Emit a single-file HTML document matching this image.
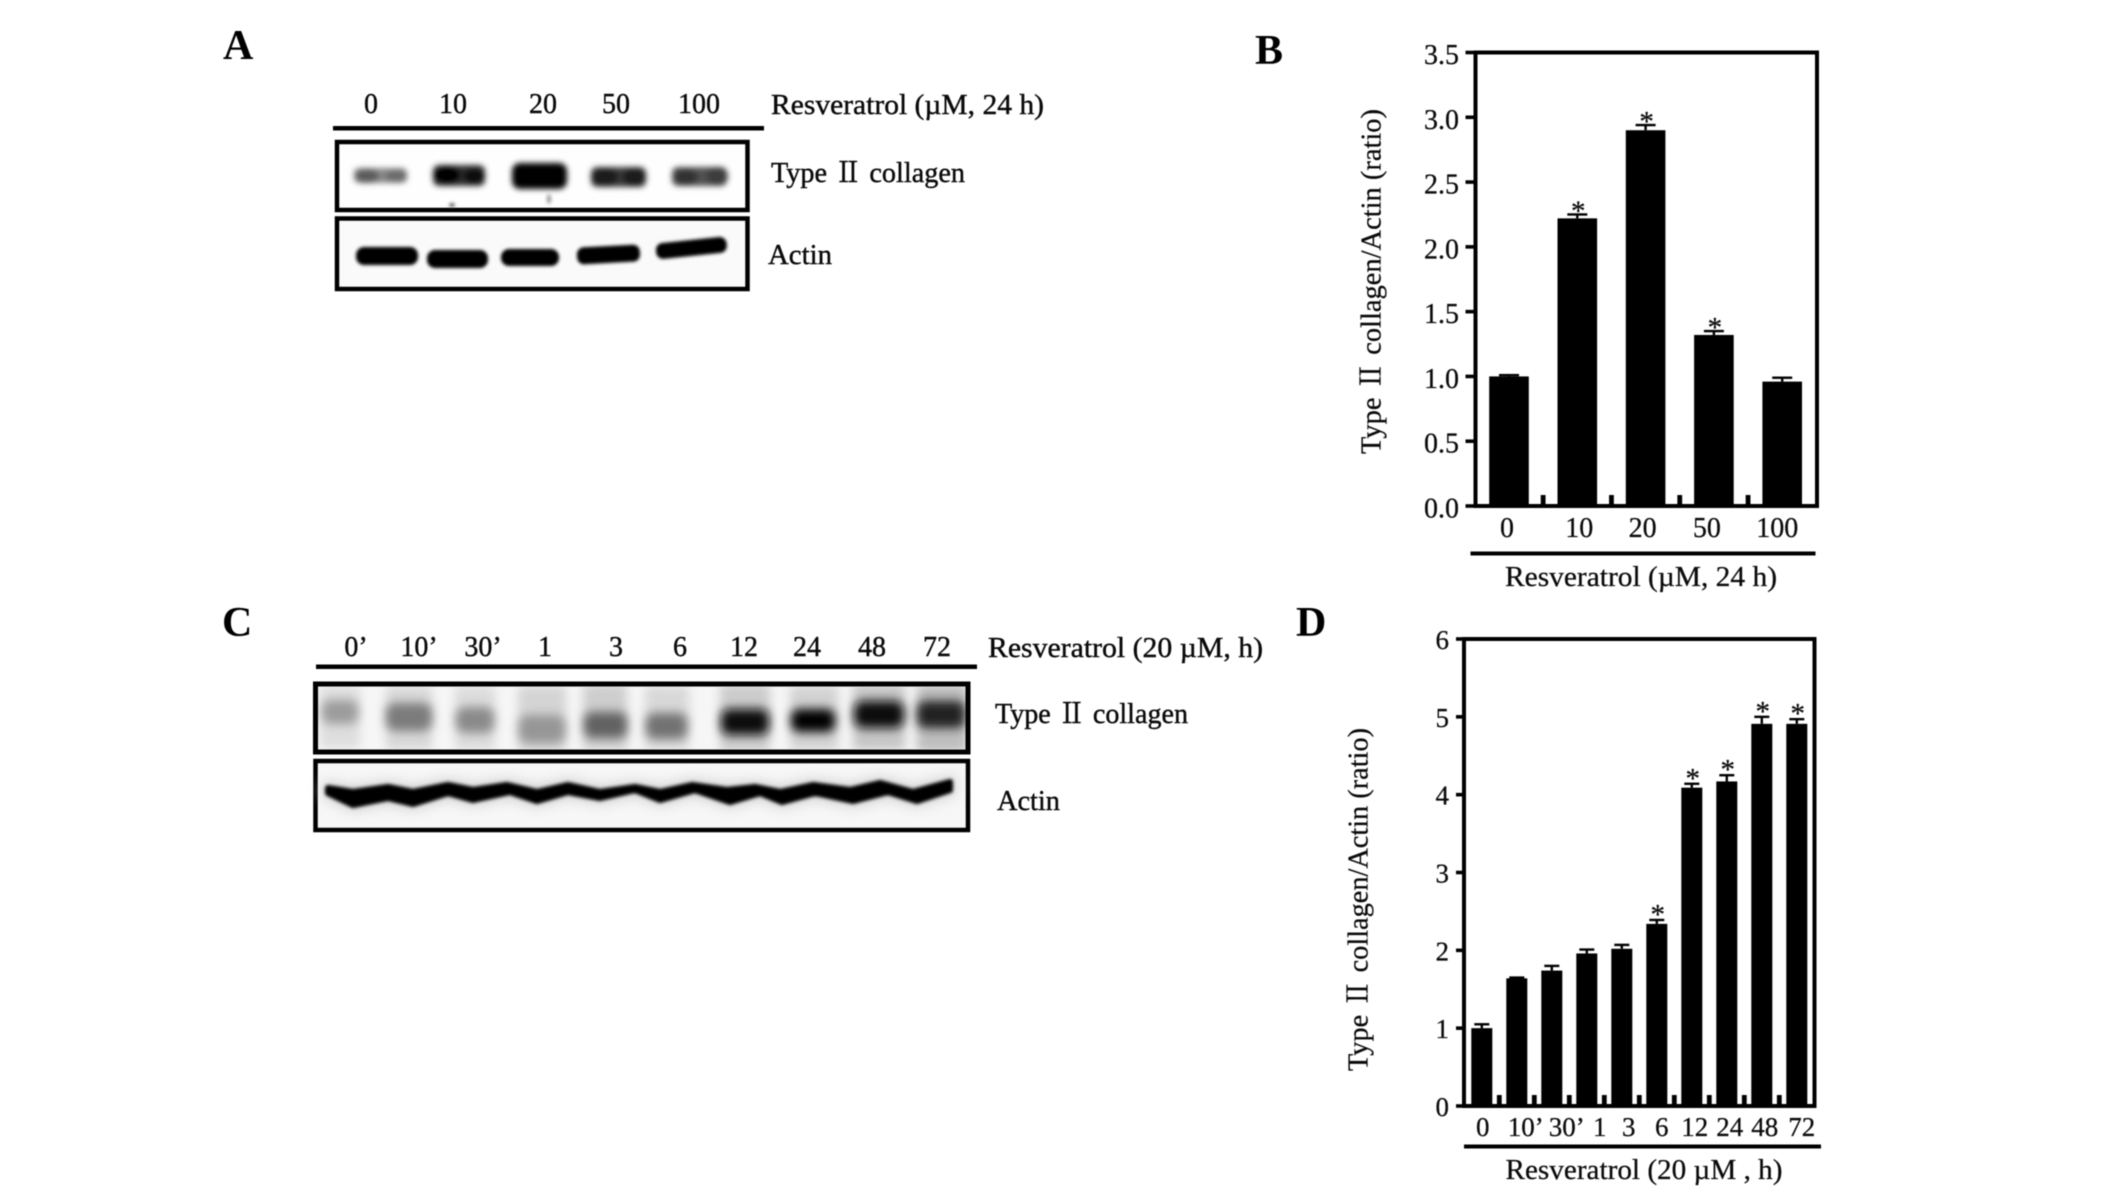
<!DOCTYPE html>
<html lang="en">
<head>
<meta charset="utf-8">
<title>Resveratrol and type II collagen expression</title>
<style>
html,body{margin:0;padding:0;background:#fff}
svg{display:block;filter:blur(.45px)}
text{font-family:"Liberation Serif","Noto Serif CJK SC",serif;fill:#0a0a0a}
.lbl{font-size:28px;stroke:#0a0a0a;stroke-width:.4px}
.chart-text text{stroke:#0a0a0a;stroke-width:.25px}
.panel{font-size:42px;font-weight:bold;fill:#000}
</style>
</head>
<body>
<svg id="fig" xmlns="http://www.w3.org/2000/svg" width="2126" height="1197" viewBox="0 0 2126 1197">
<defs>
<filter id="b1" x="-30%" y="-60%" width="160%" height="220%"><feGaussianBlur stdDeviation="1.5"/></filter>
<filter id="b2" x="-30%" y="-60%" width="160%" height="220%"><feGaussianBlur stdDeviation="2.8"/></filter>
<filter id="b3" x="-60%" y="-60%" width="220%" height="220%"><feGaussianBlur stdDeviation="5"/></filter>
<filter id="b4" x="-10%" y="-100%" width="120%" height="300%"><feGaussianBlur stdDeviation="7"/></filter>
<clipPath id="clip-c1"><rect x="318" y="687" width="648" height="62"/></clipPath>
</defs>
<rect width="2126" height="1197" fill="#fff"/>

<text class="panel" x="223" y="59">A</text>
<text class="panel" x="1255" y="64">B</text>
<text class="panel" x="222" y="636">C</text>
<text class="panel" x="1296" y="636">D</text>

<!-- Panel A blots -->
<g>
  <g class="lbl" text-anchor="middle">
    <text x="371" y="113">0</text>
    <text x="453" y="113">10</text>
    <text x="543" y="113">20</text>
    <text x="616" y="113">50</text>
    <text x="699" y="113">100</text>
  </g>
  <text class="lbl" x="771" y="114" textLength="273" lengthAdjust="spacingAndGlyphs">Resveratrol (µM, 24 h)</text>
  <rect x="333" y="126" width="431" height="4.5" fill="#000"/>

  <rect x="337" y="142" width="410.5" height="68" fill="#fefefe" stroke="#000" stroke-width="4.5"/>
  <g filter="url(#b2)">
    <rect x="354" y="168" width="53" height="15" rx="5" fill="#8a8a8a"/>
    <ellipse cx="367" cy="176" rx="12" ry="7" fill="#5c5c5c"/>
    <ellipse cx="396" cy="176" rx="11" ry="6" fill="#6c6c6c"/>
    <rect x="433" y="165" width="52" height="21" rx="6" fill="#303030"/>
    <ellipse cx="447" cy="175" rx="14" ry="9" fill="#000"/>
    <ellipse cx="474" cy="176" rx="11" ry="8" fill="#111"/>
    <rect x="512" y="163" width="55" height="26" rx="8" fill="#000"/>
    <rect x="591" y="167" width="55" height="20" rx="6" fill="#3c3c3c"/>
    <ellipse cx="605" cy="177" rx="14" ry="9" fill="#1c1c1c"/>
    <ellipse cx="634" cy="177" rx="12" ry="9" fill="#1c1c1c"/>
    <rect x="672" y="167" width="55" height="19" rx="6" fill="#525252"/>
    <ellipse cx="686" cy="177" rx="12" ry="8" fill="#333"/>
    <ellipse cx="717" cy="176" rx="11" ry="9" fill="#3c3c3c"/>
  </g>
  <g filter="url(#b1)">
    <ellipse cx="452" cy="205" rx="3" ry="2" fill="#666"/>
    <ellipse cx="549" cy="199" rx="2.5" ry="5" fill="#aaa"/>
  </g>

  <rect x="337" y="218.5" width="410.5" height="70.5" fill="#fafafa" stroke="#000" stroke-width="4.5"/>
  <g filter="url(#b1)" fill="#000">
    <rect x="356" y="247" width="62" height="18" rx="8"/>
    <rect x="427" y="250" width="61" height="18" rx="8"/>
    <rect x="501" y="249" width="58" height="17" rx="8"/>
    <rect x="577" y="246" width="63" height="17" rx="7" transform="rotate(-3 608 255)"/>
    <rect x="656" y="240" width="71" height="16" rx="7" transform="rotate(-6 691 249)"/>
  </g>
  <text class="lbl" x="771" y="182" textLength="194" lengthAdjust="spacingAndGlyphs">Type Ⅱ collagen</text>
  <text class="lbl" x="768" y="264" textLength="64" lengthAdjust="spacingAndGlyphs">Actin</text>
</g>

<!-- Panel C blots -->
<g>
  <g class="lbl" text-anchor="middle">
    <text x="356" y="656">0’</text>
    <text x="419" y="656">10’</text>
    <text x="483" y="656">30’</text>
    <text x="545" y="656">1</text>
    <text x="616" y="656">3</text>
    <text x="680" y="656">6</text>
    <text x="744" y="656">12</text>
    <text x="807" y="656">24</text>
    <text x="872" y="656">48</text>
    <text x="937" y="656">72</text>
  </g>
  <text class="lbl" x="988" y="657" textLength="275" lengthAdjust="spacingAndGlyphs">Resveratrol (20 µM, h)</text>
  <rect x="316" y="664.5" width="661" height="4.5" fill="#000"/>

  <rect x="316" y="684" width="652" height="68" fill="#f6f6f6"/>
  <g clip-path="url(#clip-c1)">
    <g filter="url(#b3)">
      <rect x="320" y="686" width="40" height="62" fill="#dedede"/>
      <rect x="386" y="686" width="46" height="64" fill="#d8d8d8"/>
      <rect x="455" y="686" width="40" height="64" fill="#dcdcdc"/>
      <rect x="518" y="686" width="48" height="66" fill="#d4d4d4"/>
      <rect x="583" y="684" width="44" height="66" fill="#cecece"/>
      <rect x="645" y="686" width="44" height="64" fill="#d8d8d8"/>
      <rect x="720" y="684" width="50" height="68" fill="#cccccc"/>
      <rect x="790" y="686" width="48" height="64" fill="#d2d2d2"/>
      <rect x="853" y="684" width="52" height="66" fill="#c6c6c6"/>
      <rect x="917" y="684" width="50" height="68" fill="#bebebe"/>
    </g>
    <g filter="url(#b3)">
      <rect x="322" y="700" width="36" height="24" rx="8" fill="#9c9c9c"/>
      <rect x="386" y="703" width="46" height="28" rx="9" fill="#7c7c7c"/>
      <rect x="456" y="707" width="38" height="26" rx="9" fill="#8a8a8a"/>
      <rect x="519" y="715" width="46" height="28" rx="9" fill="#969696"/>
      <rect x="584" y="712" width="43" height="26" rx="8" fill="#626262"/>
      <rect x="646" y="713" width="41" height="26" rx="8" fill="#727272"/>
      <rect x="721" y="709" width="48" height="26" rx="8" fill="#111"/>
      <rect x="791" y="709" width="44" height="23" rx="8" fill="#000"/>
      <rect x="854" y="701" width="50" height="27" rx="9" fill="#0c0c0c"/>
      <rect x="917" y="701" width="48" height="27" rx="8" fill="#222"/>
    </g>
  </g>
  <rect x="315.5" y="684" width="652.5" height="68" fill="none" stroke="#000" stroke-width="5"/>

  <rect x="315.5" y="761" width="652.5" height="69" fill="#f7f7f7" stroke="#000" stroke-width="4.5"/>
  <path filter="url(#b4)" fill="#ccc" stroke="#ccc" stroke-width="10" d="M328 788L353 792L388 787L413 792L448 785L473 790L507 785L537 792L568 785L600 792L635 787L660 792L692 785L727 790L755 787L780 792L813 785L850 790L880 783L913 792L950 782L950 790L917 801L888 792L853 801L815 793L782 802L760 793L730 802L695 790L660 800L635 790L600 798L568 792L537 801L510 792L473 800L448 793L413 804L388 798L353 805L328 793Z"/>
  <path filter="url(#b1)" fill="#000" stroke="#000" stroke-width="6" stroke-linejoin="round" d="M328 788L353 792L388 787L413 792L448 785L473 790L507 785L537 792L568 785L600 792L635 787L660 792L692 785L727 790L755 787L780 792L813 785L850 790L880 783L913 792L950 782L950 790L917 801L888 792L853 801L815 793L782 802L760 793L730 802L695 790L660 800L635 790L600 798L568 792L537 801L510 792L473 800L448 793L413 804L388 798L353 805L328 793Z"/>
  <text class="lbl" x="995" y="723" textLength="193" lengthAdjust="spacingAndGlyphs">Type Ⅱ collagen</text>
  <text class="lbl" x="997" y="810" textLength="63" lengthAdjust="spacingAndGlyphs">Actin</text>
</g>

<g id="chart-b" class="chart-text"></g>
<g id="chart-d" class="chart-text"></g>
</svg>

<script>
// Panel B data
const bCategories = ['0', '10', '20', '50', '100'];
const bValues = [1.0, 2.22, 2.90, 1.32, 0.96];
const bErrors = [0.01, 0.03, 0.04, 0.03, 0.03];
const bSignificant = [false, true, true, true, false];
const bTickLabels = ['0.0', '0.5', '1.0', '1.5', '2.0', '2.5', '3.0', '3.5'];
const bTickValues = [0, 0.5, 1, 1.5, 2, 2.5, 3, 3.5];

// Panel D data
const dCategories = ['0', '10’', '30’', '1', '3', '6', '12', '24', '48', '72'];
const dValues = [1.0, 1.64, 1.74, 1.96, 2.02, 2.34, 4.09, 4.17, 4.91, 4.91];
const dErrors = [0.05, 0.01, 0.06, 0.05, 0.05, 0.05, 0.05, 0.08, 0.09, 0.06];
const dSignificant = [false, false, false, false, false, true, true, true, true, true];
const dTickLabels = ['0', '1', '2', '3', '4', '5', '6'];
const dTickValues = [0, 1, 2, 3, 4, 5, 6];

const SVGNS = 'http://www.w3.org/2000/svg';

function make(parent, tag, attrs, text) {
  const el = document.createElementNS(SVGNS, tag);
  for (const k in attrs) el.setAttribute(k, attrs[k]);
  if (text !== undefined) el.textContent = text;
  parent.appendChild(el);
  return el;
}

function drawChart(cfg) {
  const root = document.getElementById(cfg.id);
  const y = v => cfg.bottom - (v / cfg.yMax) * (cfg.bottom - cfg.top);
  const x = i => cfg.firstCenter + cfg.step * i;
  const n = cfg.categories.length;

  for (let i = 0; i < n; i++) {
    const v = cfg.values[i];
    const bar = make(root, 'rect', {x: x(i) - cfg.barWidth / 2, y: y(v), width: cfg.barWidth, height: cfg.bottom - y(v), fill: '#000'});
    
    

    const capY = y(v + cfg.errors[i]);
    const stem = make(root, 'rect', {x: x(i) - 1.2, y: capY, width: 2.4, height: y(v) - capY, fill: '#000'});
    
    
    const cap = make(root, 'rect', {x: x(i) - cfg.capWidth / 2, y: capY - 1.2, width: cfg.capWidth, height: 2.4, fill: '#000'});
    
    

    if (cfg.significant[i]) {
      const star = make(root, 'text', {x: x(i) + 1, y: capY + cfg.starDrop, 'text-anchor': 'middle', 'font-size': 29}, '*');
      
      
    }

    const xl = make(root, 'text', {x: x(i) + cfg.labelNudge[i], y: cfg.xLabelBaseline, 'text-anchor': 'middle', 'font-size': cfg.fontSize}, cfg.categories[i]);
    
    

    if (i < n - 1) {
      const minor = make(root, 'rect', {x: x(i) + cfg.step / 2 - 2.4, y: cfg.bottom - cfg.minorTick, width: 4.8, height: cfg.minorTick, fill: '#000'});
      
      
    }
  }

  const frame = make(root, 'rect', {x: cfg.left, y: cfg.top, width: cfg.right - cfg.left, height: cfg.bottom - cfg.top, fill: 'none', stroke: '#000', 'stroke-width': 4});
  
  

  cfg.tickValues.forEach((t, i) => {
    const tick = make(root, 'rect', {x: cfg.left - cfg.tickLen, y: y(t) - 1.8, width: cfg.tickLen, height: 3.6, fill: '#000'});
    
    
    const lab = make(root, 'text', {x: cfg.yLabelRight, y: y(t) + cfg.yLabelDrop, 'text-anchor': 'end', 'font-size': cfg.fontSize}, cfg.tickLabels[i]);
    
    
  });

  const line = make(root, 'rect', {x: cfg.xLineStart, y: cfg.xLineY - 2, width: cfg.xLineEnd - cfg.xLineStart, height: 4, fill: '#000'});
  
  

  const xt = make(root, 'text', {x: cfg.xTitleX, y: cfg.xTitleY, 'font-size': 28, textLength: cfg.xTitleLen, lengthAdjust: 'spacingAndGlyphs'}, cfg.xTitle);
  
  

  const yt = make(root, 'text', {transform: 'translate(' + cfg.yTitleX + ',' + cfg.yTitleBottom + ') rotate(-90)', 'font-size': 28, textLength: cfg.yTitleLen, lengthAdjust: 'spacingAndGlyphs'}, 'Type Ⅱ collagen/Actin (ratio)');
  
  
}

drawChart({
  id: 'chart-b', categories: bCategories, values: bValues, errors: bErrors, significant: bSignificant,
  tickLabels: bTickLabels, tickValues: bTickValues, yMax: 3.5,
  left: 1475.5, right: 1817, top: 52.5, bottom: 506,
  firstCenter: 1509, step: 68.3, barWidth: 39.6, capWidth: 20, minorTick: 11, starDrop: 6,
  labelNudge: [-2, 2, -3, -7, -5], xLabelBaseline: 537, fontSize: 28,
  tickLen: 10, yLabelRight: 1459, yLabelDrop: 11.5,
  xLineStart: 1470.5, xLineEnd: 1815.5, xLineY: 553.5,
  xTitle: 'Resveratrol (µM, 24 h)', xTitleX: 1505, xTitleY: 586, xTitleLen: 272,
  yTitleX: 1380.5, yTitleBottom: 454, yTitleLen: 345
});

drawChart({
  id: 'chart-d', categories: dCategories, values: dValues, errors: dErrors, significant: dSignificant,
  tickLabels: dTickLabels, tickValues: dTickValues, yMax: 6,
  left: 1464, right: 1814.5, top: 639, bottom: 1106,
  firstCenter: 1481.8, step: 35, barWidth: 21, capWidth: 15, minorTick: 11, starDrop: 4,
  labelNudge: [1, 9, 15, 13, 7, 5, 3, 3, 3, 5], xLabelBaseline: 1136, fontSize: 27,
  tickLen: 8, yLabelRight: 1449, yLabelDrop: 10,
  xLineStart: 1464, xLineEnd: 1821, xLineY: 1146.5,
  xTitle: 'Resveratrol (20 µM , h)', xTitleX: 1505.5, xTitleY: 1179, xTitleLen: 277,
  yTitleX: 1367.5, yTitleBottom: 1071, yTitleLen: 343
});
</script>
</body>
</html>
